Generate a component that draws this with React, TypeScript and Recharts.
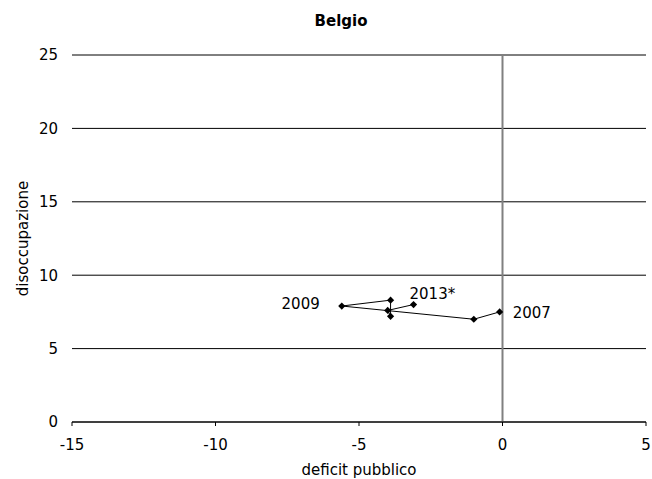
import {
  ScatterChart,
  Scatter,
  XAxis,
  YAxis,
  CartesianGrid,
  ReferenceLine,
} from "recharts";

const years = ["2007", "2008", "2009", "2010", "2011", "2012", "2013*"];
const deficit = [-0.1, -1.0, -5.6, -3.9, -3.9, -4.0, -3.1];
const unemployment = [7.5, 7.0, 7.9, 8.3, 7.2, 7.6, 8.0];
const labelledYears = ["2007", "2009", "2013*"];
const xTicks = [-15, -10, -5, 0, 5];
const yTicks = [0, 5, 10, 15, 20, 25];

const FONT = "'DejaVu Sans', Verdana, sans-serif";

// where each year label sits relative to its marker
const LABEL_PLACEMENT: Record<string, { dx: number; dy: number; anchor: string }> = {
  "2007": { dx: 13, dy: 1, anchor: "start" },
  "2009": { dx: -22, dy: -2, anchor: "end" },
  "2013*": { dx: -4, dy: -11, anchor: "start" },
};

const chartData = years.map((year, i) => ({
  x: deficit[i],
  y: unemployment[i],
  label: labelledYears.includes(year) ? year : "",
}));

const DiamondPoint = (props: any) => {
  const { cx, cy, payload } = props;
  if (cx == null || cy == null) return null;
  const s = 3.6;
  const place = payload?.label ? LABEL_PLACEMENT[payload.label] : null;
  return (
    <g>
      <polygon
        points={`${cx},${cy - s} ${cx + s},${cy} ${cx},${cy + s} ${cx - s},${cy}`}
        fill="#000"
      />
      {place && (
        <text
          x={cx + place.dx}
          y={cy + place.dy}
          textAnchor={place.anchor as any}
          dominantBaseline="central"
          fontSize={15}
          fontFamily={FONT}
          fill="#000"
        >
          {payload.label}
        </text>
      )}
    </g>
  );
};

export default function App() {
  return (
    <div style={{ position: "relative", width: 652, height: 479, fontFamily: FONT }}>
      <style>{"body{margin:0}"}</style>
      <div
        style={{
          position: "absolute",
          top: 12,
          left: 341,
          transform: "translateX(-50%)",
          fontSize: 15,
          fontWeight: "bold",
          lineHeight: "normal",
          whiteSpace: "nowrap",
          color: "#000",
        }}
      >
        Belgio
      </div>
      <ScatterChart
        width={652}
        height={479}
        margin={{ top: 55, right: 6, bottom: 4, left: 0 }}
      >
        <CartesianGrid horizontal vertical={false} stroke="#000" strokeWidth={1} />
        <XAxis
          type="number"
          dataKey="x"
          domain={[-15, 5]}
          ticks={xTicks}
          interval={0}
          height={53}
          axisLine={{ stroke: "#000", strokeWidth: 1 }}
          tickLine={{ stroke: "#000" }}
          tickSize={4}
          tickMargin={13}
          tick={{ fill: "#000", fontSize: 15, fontFamily: FONT }}
          label={{
            value: "deficit pubblico",
            position: "insideBottom",
            offset: 0,
            fill: "#000",
            fontSize: 15,
            fontFamily: FONT,
          }}
        />
        <YAxis
          type="number"
          dataKey="y"
          domain={[0, 25]}
          ticks={yTicks}
          interval={0}
          width={72}
          axisLine={false}
          tickLine={false}
          tickSize={0}
          tickMargin={14}
          tick={{ fill: "#000", fontSize: 15, fontFamily: FONT }}
          label={{
            value: "disoccupazione",
            angle: -90,
            position: "insideLeft",
            offset: 23,
            fill: "#000",
            fontSize: 15,
            fontFamily: FONT,
            style: { textAnchor: "middle" },
          }}
        />
        <ReferenceLine x={0} stroke="#808080" strokeWidth={2} />
        <Scatter
          data={chartData}
          line={{ stroke: "#000", strokeWidth: 1 }}
          lineType="joint"
          shape={DiamondPoint}
          isAnimationActive={false}
        />
      </ScatterChart>
    </div>
  );
}
